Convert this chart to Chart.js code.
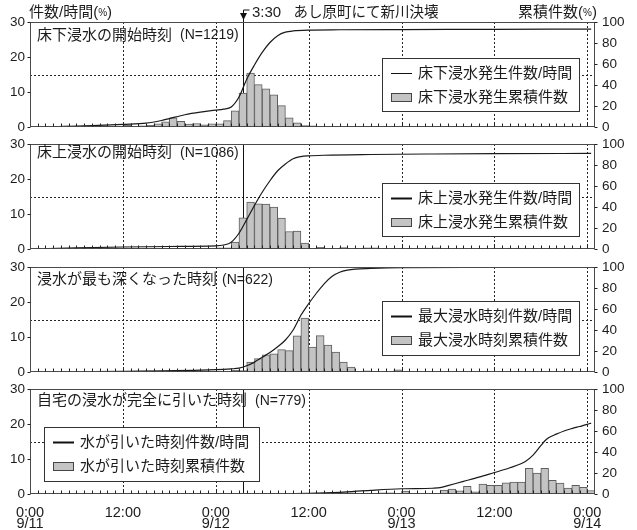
<!DOCTYPE html>
<html>
<head>
<meta charset="utf-8">
<script src="https://cdn.jsdelivr.net/npm/chart.js@4.4.1/dist/chart.umd.min.js"></script>
<style>
  html, body { margin: 0; padding: 0; background: #fff; }
  #wrap { position: relative; width: 637px; height: 530px; overflow: hidden; background: #fff; }
  #wrap canvas { position: absolute; left: 0; }
</style>
</head>
<body>
<div id="wrap">
  <canvas id="p1" width="637" height="136" style="top:0px"></canvas>
  <canvas id="p2" width="637" height="126" style="top:132px"></canvas>
  <canvas id="p3" width="637" height="126" style="top:255px"></canvas>
  <canvas id="p4" width="637" height="153" style="top:377px"></canvas>
</div>
<script>
// Time axis: hours counted from 0:00 on 9/11; bar h covers [h, h+1)
const xTickHours = [0, 12, 24, 36, 48, 60, 72];
const xTickLabels = [["0:00", "9/11"], "12:00", ["0:00", "9/12"], "12:00", ["0:00", "9/13"], "12:00", ["0:00", "9/14"]];
const leftTicks = [0, 10, 20, 30];
const rightTicks = [0, 20, 40, 60, 80, 100];
const breachHour = 27.5;      // 3:30 on 9/12
const halfLevel = 15;         // dotted reference level (left axis)

// 床下浸水の開始時刻: share of households per hour (%), hours 0..72
const belowStartRate = [
  0.1, 0.1, 0.2, 0.2, 0.3, 0.2, 0.2, 0.2, 0.2, 0.3, 0.2, 0.2,
  0.5, 0.2, 0.3, 0.5, 0.9, 1.5, 2.6, 1.6, 0.8, 1.0, 0.6, 0.9,
  0.9, 1.8, 4.6, 9.7, 15.4, 12.1, 10.9, 9.2, 6.1, 2.6, 1.2, 0.4,
  0.3, 0.1, 0, 0, 0.1, 0, 0, 0, 0.1, 0, 0, 0,
  0, 0, 0, 0, 0.2, 0, 0, 0, 0, 0, 0, 0,
  0.1, 0, 0, 0.1, 0, 0, 0, 0, 0, 0, 0, 0, 0.1
];
// cumulative share (%), [hour, value]
const belowStartCum = [
  [0.5, 0], [4, 0.5], [8, 1.3], [12, 2.5], [15, 3.6], [17, 6.2], [18, 8], [20, 11.7],
  [22, 14.2], [24, 16], [25, 17], [26, 19], [27, 28.5], [28, 45.5], [29, 59], [30, 71],
  [31, 80.5], [32, 87], [33, 90.3], [34, 91.5], [36, 92.3], [40, 92.6], [48, 92.8],
  [60, 93], [72.5, 93.3]
];

// 床上浸水の開始時刻
const aboveStartRate = [
  0.1, 0.2, 0.1, 0.1, 0.2, 0.2, 0.3, 0.3, 0.2, 0.1, 0.1, 0.2,
  0.2, 0.1, 0.1, 0.1, 0.1, 0.1, 0.1, 0.1, 0.1, 0.2, 0.1, 0.2,
  0.3, 0.3, 2.0, 8.9, 13.4, 12.9, 12.8, 12.0, 8.8, 5.0, 5.1, 1.7,
  0.2, 0.5, 0, 0, 0.4, 0, 0, 0.3, 0.3, 0, 0, 0,
  0, 0, 0, 0, 0.3, 0, 0, 0, 0, 0, 0, 0,
  0, 0, 0, 0, 0, 0, 0, 0, 0, 0, 0, 0, 0
];
const aboveStartCum = [
  [0.5, 0], [6, 1], [12, 1.9], [18, 2.4], [24, 3], [25, 3.8], [26, 6.5], [27, 15],
  [28, 28], [29, 41.5], [30, 54], [31, 65], [32, 74.5], [33, 81], [34, 86], [35, 88],
  [36, 88.7], [38, 89.3], [44, 90], [52, 90.5], [60, 90.8], [72.5, 91]
];

// 浸水が最も深くなった時刻
const peakRate = [
  0.1, 0, 0.1, 0, 0.1, 0.1, 0.1, 0.1, 0.1, 0, 0.1, 0.1,
  0.2, 0.2, 0.1, 0.1, 0.2, 0.1, 0.1, 0.1, 0.2, 0.1, 0.1, 0.1,
  0.2, 0.1, 0.5, 0.4, 2.8, 3.8, 4.9, 5.2, 6.4, 6.1, 10.3, 15.4,
  7.1, 10.4, 7.7, 5.7, 2.8, 1.4, 0.1, 0.3, 0.2, 0, 0, 0.6,
  0.1, 0, 0.1, 0, 0.1, 0.1, 0, 0, 0, 0, 0.1, 0,
  0.1, 0, 0, 0.1, 0.1, 0, 0, 0.1, 0, 0, 0, 0, 0.1
];
const peakCum = [
  [0.5, 0], [12, 0.6], [24, 2.2], [26, 3], [27, 3.7], [28, 6], [29, 9.4], [30, 14],
  [31, 18.5], [32, 24], [33, 30.5], [34, 40], [35, 54], [36, 65], [37, 75], [38, 84],
  [39, 91], [40, 95], [41, 97], [42, 98], [44, 98.6], [48, 99.3], [60, 99.7], [72.5, 100]
];

// 自宅の浸水が完全に引いた時刻
const recedeRate = [
  0, 0, 0, 0, 0, 0, 0, 0, 0, 0, 0, 0,
  0, 0, 0, 0, 0, 0, 0, 0, 0, 0, 0, 0,
  0, 0, 0, 0, 0, 0, 0.1, 0, 0.1, 0.1, 0.2, 0.2,
  0.1, 0.2, 0.2, 0.1, 0.3, 0.3, 0.2, 0.1, 0.1, 0.3, 0.3, 0.1,
  0.8, 0.2, 0.2, 0, 0.1, 1.1, 1.4, 0.9, 2.2, 0.6, 2.8, 2.5,
  2.5, 3.2, 3.4, 3.4, 7.3, 6.0, 7.3, 3.9, 3.1, 1.7, 2.5, 1.9, 1.0
];
const recedeCum = [
  [0.5, 0], [24, 0], [30, 0.2], [36, 0.6], [40, 1.6], [44, 3.5], [48, 5], [52, 5.5],
  [53, 6], [54, 8], [56, 12], [58, 16], [60, 20.5], [62, 25], [64, 31], [65, 37],
  [66, 46], [66.5, 50.5], [67, 53.5], [68, 57], [69, 60], [70, 62.3], [71, 64.3],
  [72, 66.3], [72.5, 67.5]
];

const FONT = '"Liberation Sans", "Noto Sans CJK JP", sans-serif';
const INK = '#1c1c1c';
const BAR_FILL = '#c4c4c4';
const BAR_EDGE = '#5e5e5e';

function drawRuns(ctx, runs, x, y, align) {
  const widths = runs.map(r => { ctx.font = r.f; return ctx.measureText(r.t).width; });
  const total = widths.reduce((s, w) => s + w, 0);
  let cx = align === 'right' ? x - total : x;
  ctx.textAlign = 'left';
  ctx.textBaseline = 'middle';
  runs.forEach((r, i) => { ctx.font = r.f; ctx.fillText(r.t, cx, y); cx += widths[i]; });
}

const panelDecor = {
  id: 'panelDecor',
  beforeDatasetsDraw(chart, args, o) {
    const { ctx, chartArea: a } = chart;
    const xs = chart.scales.x, ys = chart.scales.y;
    ctx.save();
    // dotted grid: every 12 hours and the half level
    ctx.strokeStyle = '#262626';
    ctx.lineWidth = 1;
    ctx.setLineDash([2, 2]);
    ctx.beginPath();
    xTickHours.filter(h => h > 0).forEach(h => {
      const px = Math.round(xs.getPixelForValue(h)) + 0.5;
      ctx.moveTo(px, a.top); ctx.lineTo(px, a.bottom);
    });
    const py = Math.round(ys.getPixelForValue(halfLevel)) + 0.5;
    ctx.moveTo(a.left, py); ctx.lineTo(a.right, py);
    ctx.stroke();
    ctx.setLineDash([]);
    // levee breach marker
    const ex = Math.round(xs.getPixelForValue(breachHour)) + 0.5;
    ctx.strokeStyle = '#111';
    ctx.beginPath();
    ctx.moveTo(ex, o.header ? 10 : a.top);
    ctx.lineTo(ex, a.bottom);
    ctx.stroke();
    ctx.restore();
  },
  afterDatasetsDraw(chart, args, o) {
    const { ctx, chartArea: a } = chart;
    const xs = chart.scales.x, ys = chart.scales.y, ys2 = chart.scales.y2;
    ctx.save();
    // plot frame
    ctx.strokeStyle = '#4a4a4a';
    ctx.lineWidth = 1;
    const L = Math.round(a.left) + 0.5, T = Math.round(a.top) + 0.5;
    const R = Math.round(a.right) - 0.5, B = Math.round(a.bottom) - 0.5;
    ctx.strokeRect(L, T, R - L, B - T);
    // hourly tick marks along the time axis, axis ticks on both sides
    ctx.strokeStyle = '#222';
    ctx.beginPath();
    for (let h = 1; h < 73; h++) {
      const px = Math.round(xs.getPixelForValue(h)) + 0.5;
      ctx.moveTo(px, B); ctx.lineTo(px, B - 3);
    }
    leftTicks.forEach(v => {
      const py = Math.round(ys.getPixelForValue(v)) + 0.5;
      ctx.moveTo(L - 3, py); ctx.lineTo(L, py);
    });
    rightTicks.forEach(v => {
      const py = Math.round(ys2.getPixelForValue(v)) + 0.5;
      ctx.moveTo(R, py); ctx.lineTo(R + 3, py);
    });
    ctx.stroke();

    // panel title
    ctx.fillStyle = INK;
    ctx.textBaseline = 'middle';
    ctx.textAlign = 'left';
    ctx.font = '15px ' + FONT;
    ctx.fillText(o.title, 37, a.top + o.titleDy);
    ctx.font = '14px ' + FONT;
    ctx.fillText(o.count, o.countX, a.top + o.titleDy);

    // legend box
    const lx = o.legend[0], ly = a.top + o.legend[1], lw = o.legend[2], lh = o.legend[3];
    ctx.fillStyle = '#fff';
    ctx.fillRect(lx, ly, lw, lh);
    ctx.strokeStyle = '#333';
    ctx.lineWidth = 1;
    ctx.strokeRect(Math.round(lx) + 0.5, Math.round(ly) + 0.5, lw, lh);
    const r1 = ly + 15.5, r2 = ly + 39.5;
    ctx.strokeStyle = '#111';
    ctx.lineWidth = o.legendLineWidth;
    ctx.beginPath();
    ctx.moveTo(lx + 9, r1); ctx.lineTo(lx + 30, r1);
    ctx.stroke();
    ctx.fillStyle = BAR_FILL;
    ctx.fillRect(lx + 9, r2 - 4.5, 21, 9);
    ctx.strokeStyle = '#444';
    ctx.lineWidth = 1;
    ctx.strokeRect(Math.round(lx + 9) + 0.5, Math.round(r2 - 4.5) + 0.5, 20, 8);
    ctx.fillStyle = INK;
    ctx.font = '15px ' + FONT;
    ctx.fillText(chart.data.datasets[0].label, lx + 36, r1);
    ctx.fillText(chart.data.datasets[1].label, lx + 36, r2);

    if (o.header) {
      const ex = Math.round(xs.getPixelForValue(breachHour)) + 0.5;
      // marker head: short stub and downward arrow
      ctx.strokeStyle = '#111';
      ctx.lineWidth = 1;
      ctx.beginPath();
      ctx.moveTo(ex, 10); ctx.lineTo(ex + 6, 10);
      ctx.stroke();
      ctx.fillStyle = '#111';
      ctx.beginPath();
      ctx.moveTo(ex - 3.5, 13); ctx.lineTo(ex + 3.5, 13); ctx.lineTo(ex, 20);
      ctx.closePath();
      ctx.fill();
      ctx.fillStyle = INK;
      drawRuns(ctx, [{ t: '3:30', f: '15px ' + FONT }], 252, 13, 'left');
      drawRuns(ctx, [{ t: 'あし原町にて新川決壊', f: '14.5px ' + FONT }], 293.5, 13, 'left');
      drawRuns(ctx, [
        { t: '件数/時間(', f: '15px ' + FONT },
        { t: '%', f: '10px ' + FONT },
        { t: ')', f: '15px ' + FONT }
      ], 29, 13, 'left');
      drawRuns(ctx, [
        { t: '累積件数(', f: '15px ' + FONT },
        { t: '%', f: '10px ' + FONT },
        { t: ')', f: '15px ' + FONT }
      ], 597, 13, 'right');
    }
    ctx.restore();
  }
};

// y axes keep a fixed width and add no extra vertical padding to the plot area
function fixAxis(width) {
  return s => { s.width = width; s.paddingTop = 0; s.paddingBottom = 0; };
}

function makePanel(id, p) {
  return new Chart(document.getElementById(id), {
    type: 'bar',
    data: {
      datasets: [
        {
          type: 'line',
          label: p.lineLabel,
          data: p.cum.map(d => ({ x: d[0], y: d[1] })),
          yAxisID: 'y2',
          borderColor: '#1a1a1a',
          borderWidth: 1.2,
          pointRadius: 0,
          cubicInterpolationMode: 'monotone',
          order: 0
        },
        {
          type: 'bar',
          label: p.barLabel,
          data: p.rate.map((v, h) => ({ x: h + 0.5, y: v })),
          yAxisID: 'y',
          backgroundColor: BAR_FILL,
          borderColor: BAR_EDGE,
          borderWidth: 1,
          barPercentage: 1,
          categoryPercentage: 1,
          order: 1
        }
      ]
    },
    options: {
      responsive: false,
      animation: false,
      devicePixelRatio: 1,
      layout: { padding: { top: p.padTop, bottom: p.padBottom, left: 0, right: 0 } },
      plugins: {
        legend: { display: false },
        tooltip: { enabled: false },
        panelDecor: p.decor
      },
      scales: {
        x: {
          type: 'linear', min: 0, max: 73, offset: false,
          display: p.showX,
          grid: { display: false, drawTicks: false },
          border: { display: false },
          afterBuildTicks: s => { s.ticks = xTickHours.map(v => ({ value: v })); },
          afterFit: s => { s.height = p.showX ? 36 : 0; s.paddingLeft = 0; s.paddingRight = 0; },
          ticks: {
            autoSkip: false, maxRotation: 0, minRotation: 0, padding: 14,
            color: INK,
            font: { family: FONT, size: 14.5, lineHeight: 0.72 },
            callback: (v, i) => xTickLabels[i]
          }
        },
        y: {
          position: 'left', min: 0, max: 30,
          grid: { display: false, drawTicks: false },
          border: { display: false },
          afterFit: fixAxis(30),
          afterBuildTicks: s => { s.ticks = leftTicks.map(v => ({ value: v })); },
          ticks: { autoSkip: false, padding: 5, color: INK, font: { family: FONT, size: 13.5 } }
        },
        y2: {
          position: 'right', min: 0, max: 100,
          grid: { display: false, drawTicks: false },
          border: { display: false },
          afterFit: fixAxis(42),
          afterBuildTicks: s => { s.ticks = rightTicks.map(v => ({ value: v })); },
          ticks: { autoSkip: false, padding: 7, color: INK, font: { family: FONT, size: 13.5 } }
        }
      }
    },
    plugins: [panelDecor]
  });
}

makePanel('p1', {
  rate: belowStartRate, cum: belowStartCum,
  lineLabel: '床下浸水発生件数/時間', barLabel: '床下浸水発生累積件数',
  padTop: 22, padBottom: 9, showX: false,
  decor: { title: '床下浸水の開始時刻', count: '(N=1219)', countX: 180, titleDy: 13.5,
           legend: [382, 36, 197, 53], legendLineWidth: 1, header: true }
});
makePanel('p2', {
  rate: aboveStartRate, cum: aboveStartCum,
  lineLabel: '床上浸水発生件数/時間', barLabel: '床上浸水発生累積件数',
  padTop: 12, padBottom: 9, showX: false,
  decor: { title: '床上浸水の開始時刻', count: '(N=1086)', countX: 180, titleDy: 9,
           legend: [382, 39, 197, 53], legendLineWidth: 2, header: false }
});
makePanel('p3', {
  rate: peakRate, cum: peakCum,
  lineLabel: '最大浸水時刻件数/時間', barLabel: '最大浸水時刻累積件数',
  padTop: 12, padBottom: 9, showX: false,
  decor: { title: '浸水が最も深くなった時刻', count: '(N=622)', countX: 222, titleDy: 13,
           legend: [382, 34, 197, 54], legendLineWidth: 2, header: false }
});
makePanel('p4', {
  rate: recedeRate, cum: recedeCum,
  lineLabel: '水が引いた時刻件数/時間', barLabel: '水が引いた時刻累積件数',
  padTop: 12, padBottom: 0, showX: true,
  decor: { title: '自宅の浸水が完全に引いた時刻', count: '(N=779)', countX: 255, titleDy: 12,
           legend: [44, 38, 215, 54], legendLineWidth: 2, header: false }
});
</script>
</body>
</html>
